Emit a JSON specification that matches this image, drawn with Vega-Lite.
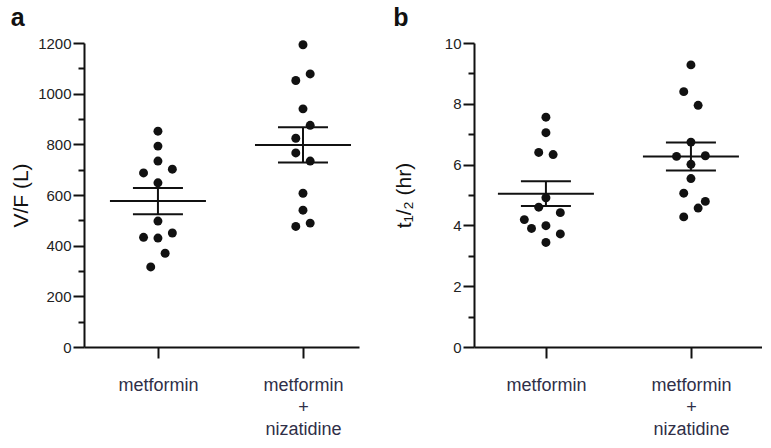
{
  "$schema": "https://vega.github.io/schema/vega-lite/v6.json",
  "background": "white",
  "padding": {"left": 10, "top": 6, "right": 0, "bottom": 0},
  "config": {
    "font": "Liberation Sans",
    "view": {"stroke": null},
    "axis": {"grid": false, "domainColor": "#111", "domainWidth": 2, "tickColor": "#111", "tickWidth": 2, "labelColor": "#222", "titleColor": "#111", "titleFontWeight": "normal"},
    "concat": {"spacing": 34}
  },
  "datasets": {
    "vf": [
      {"group": "M", "col": 0, "v": 852}, {"group": "M", "col": 0, "v": 793}, {"group": "M", "col": 0, "v": 734},
      {"group": "M", "col": -2, "v": 687}, {"group": "M", "col": 2, "v": 702}, {"group": "M", "col": 0, "v": 648},
      {"group": "M", "col": 0, "v": 497}, {"group": "M", "col": -2, "v": 433}, {"group": "M", "col": 0, "v": 430},
      {"group": "M", "col": 2, "v": 450}, {"group": "M", "col": 1, "v": 370}, {"group": "M", "col": -1, "v": 316},
      {"group": "MN", "col": 0, "v": 1193}, {"group": "MN", "col": 1, "v": 1078}, {"group": "MN", "col": -1, "v": 1052},
      {"group": "MN", "col": 0, "v": 940}, {"group": "MN", "col": 1, "v": 875}, {"group": "MN", "col": -1, "v": 824},
      {"group": "MN", "col": -1, "v": 766}, {"group": "MN", "col": 1, "v": 734}, {"group": "MN", "col": 0, "v": 607},
      {"group": "MN", "col": 0, "v": 540}, {"group": "MN", "col": 1, "v": 489}, {"group": "MN", "col": -1, "v": 476}
    ],
    "th": [
      {"group": "M", "col": 0, "v": 7.56}, {"group": "M", "col": 0, "v": 7.05}, {"group": "M", "col": -1, "v": 6.40},
      {"group": "M", "col": 1, "v": 6.33}, {"group": "M", "col": 0, "v": 4.91}, {"group": "M", "col": -1, "v": 4.60},
      {"group": "M", "col": 2, "v": 4.42}, {"group": "M", "col": -3, "v": 4.19}, {"group": "M", "col": -2, "v": 3.90},
      {"group": "M", "col": 0, "v": 3.99}, {"group": "M", "col": 2, "v": 3.72}, {"group": "M", "col": 0, "v": 3.44},
      {"group": "MN", "col": 0, "v": 9.28}, {"group": "MN", "col": -1, "v": 8.40}, {"group": "MN", "col": 1, "v": 7.95},
      {"group": "MN", "col": 0, "v": 6.74}, {"group": "MN", "col": -2, "v": 6.27}, {"group": "MN", "col": 2, "v": 6.29},
      {"group": "MN", "col": 0, "v": 6.01}, {"group": "MN", "col": 0, "v": 5.54}, {"group": "MN", "col": -1, "v": 5.06},
      {"group": "MN", "col": 2, "v": 4.79}, {"group": "MN", "col": 1, "v": 4.57}, {"group": "MN", "col": -1, "v": 4.28}
    ]
  },
  "hconcat": [
    {
      "title": {"text": "a", "anchor": "start", "fontSize": 25, "fontWeight": "bold", "color": "#111", "offset": 5},
      "width": 275,
      "height": 304,
      "data": {"name": "vf"},
      "encoding": {
        "x": {"field": "group", "type": "nominal", "title": null,
          "scale": {"type": "point", "padding": 0.448, "align": 0.569, "domain": ["M", "MN"]},
          "axis": {"labelAngle": 0, "tickSize": 11, "labelFontSize": 18, "labelPadding": 18, "labelLineHeight": 22, "labelColor": "#2f2f48", "labelBaseline": "top",
            "labelExpr": "datum.value == 'M' ? 'metformin' : ['metformin', '+', 'nizatidine']"}}
      },
      "layer": [
        {
          "mark": {"type": "point", "filled": true, "size": 80, "color": "#111", "opacity": 1},
          "encoding": {
            "xOffset": {"field": "col", "type": "quantitative", "scale": {"domain": [-3, 3], "range": [-21.6, 21.6]}},
            "y": {"field": "v", "type": "quantitative", "title": "V/F (L)",
              "scale": {"domain": [0, 1200], "nice": false},
              "axis": {"values": [0,100,200,300,400,500,600,700,800,900,1000,1100,1200],
                "labelExpr": "datum.value % 200 == 0 ? '' + datum.value : ''",
                "tickSize": {"condition": {"test": "datum.value % 200 == 0", "value": 11}, "value": 6},
                "labelFontSize": 15, "labelPadding": 2, "titleFontSize": 21, "titlePadding": 6}}
          }
        },
        {
          "mark": {"type": "tick", "orient": "horizontal", "size": 96, "thickness": 2, "color": "#111", "opacity": 1},
          "encoding": {"y": {"aggregate": "mean", "field": "v", "type": "quantitative", "title": "V/F (L)",
              "scale": {"domain": [0, 1200], "nice": false},
              "axis": {"values": [0,100,200,300,400,500,600,700,800,900,1000,1100,1200],
                "labelExpr": "datum.value % 200 == 0 ? '' + datum.value : ''",
                "tickSize": {"condition": {"test": "datum.value % 200 == 0", "value": 11}, "value": 6},
                "labelFontSize": 15, "labelPadding": 2, "titleFontSize": 21, "titlePadding": 6}}}
        },
        {
          "mark": {"type": "errorbar", "extent": "stderr", "thickness": 2, "color": "#111", "opacity": 1, "ticks": {"size": 50, "thickness": 2, "color": "#111", "opacity": 1}},
          "encoding": {"y": {"field": "v", "type": "quantitative", "title": "V/F (L)",
              "scale": {"domain": [0, 1200], "nice": false},
              "axis": {"values": [0,100,200,300,400,500,600,700,800,900,1000,1100,1200],
                "labelExpr": "datum.value % 200 == 0 ? '' + datum.value : ''",
                "tickSize": {"condition": {"test": "datum.value % 200 == 0", "value": 11}, "value": 6},
                "labelFontSize": 15, "labelPadding": 2, "titleFontSize": 21, "titlePadding": 6}}}
        }
      ]
    },
    {
      "title": {"text": "b", "anchor": "start", "fontSize": 25, "fontWeight": "bold", "color": "#111", "offset": 5},
      "width": 288,
      "height": 304,
      "data": {"name": "th"},
      "encoding": {
        "x": {"field": "group", "type": "nominal", "title": null,
          "scale": {"type": "point", "padding": 0.493, "align": 0.503, "domain": ["M", "MN"]},
          "axis": {"labelAngle": 0, "tickSize": 11, "labelFontSize": 18, "labelPadding": 18, "labelLineHeight": 22, "labelColor": "#2f2f48", "labelBaseline": "top",
            "labelExpr": "datum.value == 'M' ? 'metformin' : ['metformin', '+', 'nizatidine']"}}
      },
      "layer": [
        {
          "mark": {"type": "point", "filled": true, "size": 80, "color": "#111", "opacity": 1},
          "encoding": {
            "xOffset": {"field": "col", "type": "quantitative", "scale": {"domain": [-3, 3], "range": [-21.6, 21.6]}},
            "y": {"field": "v", "type": "quantitative", "title": "t₁/₂ (hr)",
              "scale": {"domain": [0, 10], "nice": false},
              "axis": {"values": [0,1,2,3,4,5,6,7,8,9,10],
                "labelExpr": "datum.value % 2 == 0 ? '' + datum.value : ''",
                "tickSize": {"condition": {"test": "datum.value % 2 == 0", "value": 11}, "value": 6},
                "labelFontSize": 15, "labelPadding": 2, "titleFontSize": 21, "titlePadding": 30}}
          }
        },
        {
          "mark": {"type": "tick", "orient": "horizontal", "size": 96, "thickness": 2, "color": "#111", "opacity": 1},
          "encoding": {"y": {"aggregate": "mean", "field": "v", "type": "quantitative", "title": "t₁/₂ (hr)",
              "scale": {"domain": [0, 10], "nice": false},
              "axis": {"values": [0,1,2,3,4,5,6,7,8,9,10],
                "labelExpr": "datum.value % 2 == 0 ? '' + datum.value : ''",
                "tickSize": {"condition": {"test": "datum.value % 2 == 0", "value": 11}, "value": 6},
                "labelFontSize": 15, "labelPadding": 2, "titleFontSize": 21, "titlePadding": 30}}}
        },
        {
          "mark": {"type": "errorbar", "extent": "stderr", "thickness": 2, "color": "#111", "opacity": 1, "ticks": {"size": 50, "thickness": 2, "color": "#111", "opacity": 1}},
          "encoding": {"y": {"field": "v", "type": "quantitative", "title": "t₁/₂ (hr)",
              "scale": {"domain": [0, 10], "nice": false},
              "axis": {"values": [0,1,2,3,4,5,6,7,8,9,10],
                "labelExpr": "datum.value % 2 == 0 ? '' + datum.value : ''",
                "tickSize": {"condition": {"test": "datum.value % 2 == 0", "value": 11}, "value": 6},
                "labelFontSize": 15, "labelPadding": 2, "titleFontSize": 21, "titlePadding": 30}}}
        }
      ]
    }
  ]
}
